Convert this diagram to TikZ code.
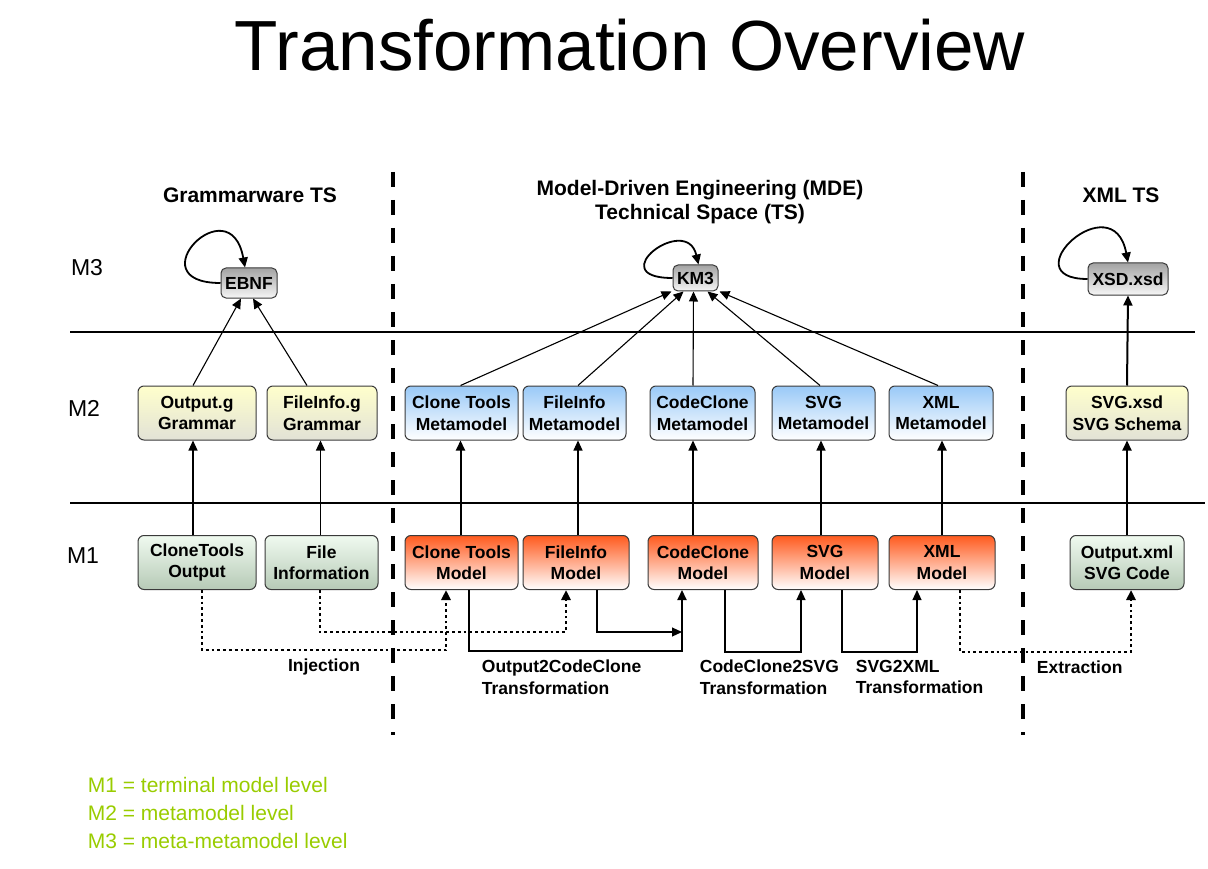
\documentclass[tikz,border=0pt]{standalone}
\usepackage{fontspec}
\setmainfont{Liberation Sans}
\usetikzlibrary{arrows.meta}

\definecolor{lvlgreen}{HTML}{99CC00}
\definecolor{gramtop}{HTML}{FFFFCC}
\definecolor{grambot}{HTML}{E2E2D6}
\definecolor{srctop}{HTML}{F0FAF0}
\definecolor{srcbot}{HTML}{B6CAB6}
\definecolor{metatop}{HTML}{99C9F7}
\definecolor{modeltop}{HTML}{FF5A1E}
\definecolor{modelmid}{HTML}{FFB595}
\definecolor{mtop}{HTML}{A3A3A3}
\definecolor{mbot}{HTML}{F6F6F6}
\definecolor{edge}{HTML}{3A3A3A}

\tikzset{
	>={Triangle[length=10pt,width=9pt]},
	box/.style={draw=edge, line width=1pt, rounded corners=6pt, align=center,
		minimum height=54pt, inner sep=2pt, font=\bfseries\fontsize{17.5}{21.5}\selectfont},
	grambox/.style={box, top color=gramtop, bottom color=grambot},
	srcbox/.style={box, top color=srctop, bottom color=srcbot},
	metabox/.style={box, top color=metatop, bottom color=white},
	modelbox/.style={box, top color=modeltop, middle color=modelmid, bottom color=white},
	m3box/.style={box, rounded corners=5pt, minimum height=28pt, top color=mtop, bottom color=mbot},
	lvl/.style={font=\fontsize{23}{26}\selectfont},
	head/.style={font=\bfseries\fontsize{21}{24}\selectfont, align=center},
	lab/.style={font=\bfseries\fontsize{17.5}{21.5}\selectfont, align=left, anchor=west},
	legend/.style={font=\fontsize{21}{25}\selectfont, text=lvlgreen, anchor=west},
	divider/.style={line width=3.2pt, dash pattern=on 15pt off 13pt},
	inj/.style={->, line width=2.8pt, dash pattern=on 2.8pt off 3pt},
	trf/.style={->, line width=2pt},
}

\begin{document}
\begin{tikzpicture}[x=1pt,y=-1pt,line width=1.1pt]
	\useasboundingbox (0,0) rectangle (1208,869);
	\node[font=\fontsize{71}{80}\selectfont] (title) at (630,45) {Transformation Overview};

	\node[head] (hgram) at (250,195) {Grammarware TS};
	\node[head] (hmde) at (700,202) {Model-Driven Engineering (MDE)\\Technical Space (TS)};
	\node[head] (hxml) at (1121,195) {XML TS};

	\node[lvl] (l3) at (87,268) {M3};
	\node[lvl] (l2) at (84,408) {M2};
	\node[lvl] (l1) at (83,556) {M1};

	\draw (70,332) -- (1195,332);
	\draw (70,503) -- (1205,503);
	\draw[divider] (393,172) -- (393,735);
	\draw[divider] (1023,172) -- (1023,735);

	\node[m3box, minimum width=56pt, minimum height=30pt] (ebnf) at (249,283) {EBNF};
	\node[m3box, minimum width=45pt, minimum height=26pt] (km3) at (695.5,278) {KM3};
	\node[m3box, minimum width=80pt, minimum height=32pt] (xsd) at (1128,279) {XSD.xsd};

	\node[grambox, minimum width=118pt] (og) at (197,413) {Output.g\\Grammar};
	\node[grambox, minimum width=110pt] (fg) at (322,413) {FileInfo.g\\Grammar};
	\node[metabox, minimum width=113pt] (ctm) at (461.5,413) {Clone Tools\\Metamodel};
	\node[metabox, minimum width=103pt] (fim) at (574.5,413) {FileInfo\\Metamodel};
	\node[metabox, minimum width=105pt] (ccm) at (702.5,413) {CodeClone\\Metamodel};
	\node[metabox, minimum width=103pt] (svgm) at (823.5,413) {SVG\\Metamodel};
	\node[metabox, minimum width=104pt] (xmlm) at (941,413) {XML\\Metamodel};
	\node[grambox, minimum width=122pt] (xsdm) at (1127,413) {SVG.xsd\\SVG Schema};

	\node[srcbox, minimum width=118pt] (cto) at (197,562.5) {CloneTools\\Output};
	\node[srcbox, minimum width=113pt] (fin) at (321.5,562.5) {File\\Information};
	\node[modelbox, minimum width=113pt] (ctmod) at (461.5,562.5) {Clone Tools\\Model};
	\node[modelbox, minimum width=106pt] (fimod) at (576,562.5) {FileInfo\\Model};
	\node[modelbox, minimum width=110pt] (ccmod) at (703,562.5) {CodeClone\\Model};
	\node[modelbox, minimum width=106pt] (svgmod) at (825,562.5) {SVG\\Model};
	\node[modelbox, minimum width=106pt] (xmlmod) at (942,562.5) {XML\\Model};
	\node[srcbox, minimum width=114pt] (oxml) at (1127,562.5) {Output.xml\\SVG Code};

	\draw[->, line width=1.8pt] (ebnf.west) .. controls +(-86,0) and +(-15,-83) .. ([xshift=-4pt]ebnf.north);
	\draw[->, line width=1.8pt] (km3.west) .. controls +(-72,0) and +(-12,-52) .. ([xshift=3pt]km3.north);
	\draw[->, line width=1.8pt] (xsd.west) .. controls +(-78,0) and +(-15,-80) .. (xsd.north);

	\draw[->] ([xshift=-4pt]og.north) -- ([xshift=-8pt]ebnf.south);
	\draw[->] ([xshift=-15pt]fg.north) -- ([xshift=4pt]ebnf.south);
	\foreach \a/\s/\t in {ctm/-1/-24, fim/3.5/-12, ccm/-9.5/-2, svgm/-3.5/12, xmlm/-3/24}
		\draw[->] ([xshift=\s pt]\a.north) -- ([xshift=\t pt]km3.south);
	\draw[->, line width=2pt] (xsdm.north) -- (xsd.south);

	\foreach \a/\b/\s in {cto/og/-4, fin/fg/-1, fimod/fim/2, ccmod/ccm/-10, svgmod/svgm/-4}
		\draw[->] ([xshift=\s pt]\a.north) -- ([xshift=\s pt]\a.north |- \b.south);
	\foreach \a/\b/\s in {ctmod/ctm/-1, xmlmod/xmlm/0, oxml/xsdm/0}
		\draw[->, line width=2pt] ([xshift=\s pt]\a.north) -- ([xshift=\s pt]\a.north |- \b.south);

	\draw[inj] ([xshift=5pt]cto.south) -- ++(0,60) -| ([xshift=-15.5pt]ctmod.south);
	\draw[inj] ([xshift=-1.5pt]fin.south) -- ++(0,42) -| ([xshift=-10pt]fimod.south);
	\draw[trf] ([xshift=7.5pt]ctmod.south) -- ++(0,61) -| ([xshift=-21pt]ccmod.south);
	\draw[->] ([xshift=21pt]fimod.south) |- ([xshift=-21pt,yshift=-42pt]ccmod.south);
	\draw[->] ([xshift=22pt]ccmod.south) -- ++(0,62) -| ([xshift=-24pt]svgmod.south);
	\draw[->] ([xshift=17pt]svgmod.south) -- ++(0,62) -| ([xshift=-25pt]xmlmod.south);
	\draw[inj] ([xshift=18pt]xmlmod.south) -- ++(0,62) -| ([xshift=4pt]oxml.south);

	\node[lab, anchor=center] (linj) at (324,667) {Injection};
	\node[lab] (lo2c) at (478,677) {Output2CodeClone\\Transformation};
	\node[lab] (lc2s) at (696,677) {CodeClone2SVG\\Transformation};
	\node[lab] (ls2x) at (852,677) {SVG2XML\\Transformation};
	\node[lab] (lext) at (1033,667) {Extraction};

	\node[legend] (g1) at (84,785) {M1 = terminal model level};
	\node[legend] (g2) at (84,813) {M2 = metamodel level};
	\node[legend] (g3) at (84,841) {M3 = meta-metamodel level};
\end{tikzpicture}
\end{document}
